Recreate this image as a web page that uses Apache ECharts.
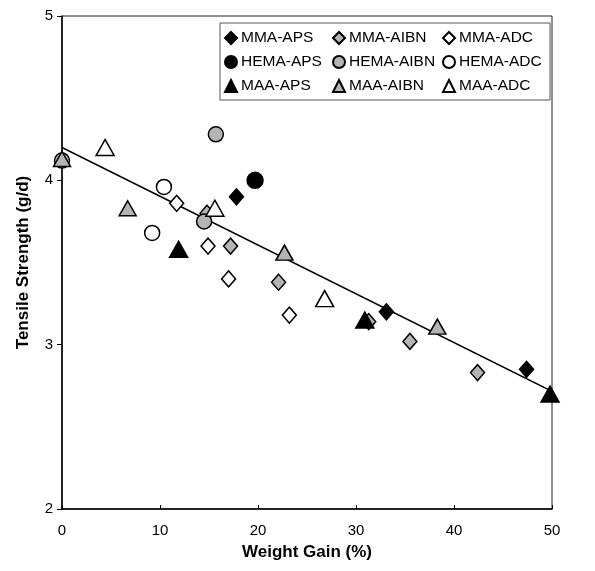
<!DOCTYPE html>
<html>
<head>
<meta charset="utf-8">
<script src="https://cdn.jsdelivr.net/npm/echarts@6/dist/echarts.min.js"></script>
<style>html,body{margin:0;padding:0;background:#fff;}#c{width:595px;height:571px;}</style>
</head>
<body>
<div id="c"></div>
<script>
var xTicks = [0, 10, 20, 30, 40, 50];
var yTicks = [2, 3, 4, 5];

var mmaAPS = [[17.8, 3.90], [33.1, 3.20], [47.4, 2.85]];
var mmaAIBN = [[14.8, 3.80], [17.2, 3.60], [22.1, 3.38], [31.3, 3.14], [35.5, 3.02], [42.4, 2.83]];
var mmaADC = [[11.7, 3.86], [14.9, 3.60], [17.0, 3.40], [23.2, 3.18]];
var hemaAPS = [[19.7, 4.00]];
var hemaAIBN = [[0, 4.12], [15.7, 4.28], [14.5, 3.75]];
var hemaADC = [[10.4, 3.96], [9.2, 3.68]];
var maaAPS = [[11.9, 3.58], [30.9, 3.15], [49.8, 2.70]];
var maaAIBN = [[0, 4.13], [6.7, 3.83], [22.7, 3.56], [38.3, 3.11]];
var maaADC = [[4.4, 4.20], [15.6, 3.83], [26.8, 3.28]];
var trendX = [0, 50.2];
var trendY = [4.20, 2.71];

var black = '#000', gray = '#b4b4b4', white = '#fff';
var FONT = 'Liberation Sans, Arial, sans-serif';
function sc(name, data, symbol, size, fill) {
  return {
    name: name, type: 'scatter', data: data, symbol: symbol, symbolSize: size,
    itemStyle: { color: fill, borderColor: '#000', borderWidth: 1.5, opacity: 1 },
    clip: false, z: 3
  };
}
var diamond = 'diamond', circle = 'circle', tri = 'triangle';
var series = [
  sc('MMA-APS', mmaAPS, diamond, [14, 16], black),
  sc('MMA-AIBN', mmaAIBN, diamond, [14, 16], gray),
  sc('MMA-ADC', mmaADC, diamond, [14, 16], white),
  sc('HEMA-APS', hemaAPS, circle, 16, black),
  sc('HEMA-AIBN', hemaAIBN, circle, 15, gray),
  sc('HEMA-ADC', hemaADC, circle, 15, white),
  sc('MAA-APS', maaAPS, tri, [18, 16], black),
  sc('MAA-AIBN', maaAIBN, tri, [17, 15], gray),
  sc('MAA-ADC', maaADC, tri, [18, 16], white),
  {
    type: 'line', data: trendX.map(function (x, i) { return [x, trendY[i]]; }),
    symbol: 'none', lineStyle: { color: '#000', width: 1.5 }, z: 2, silent: true, clip: false
  }
];

function legendCol(names, left) {
  return {
    orient: 'vertical', left: left, top: 30, itemGap: 8, itemWidth: 12, itemHeight: 12,
    data: names, textStyle: { fontFamily: FONT, fontSize: 15.5, color: '#000', padding: [0, 0, 0, -1] },
    padding: 0, selectedMode: false
  };
}

var chart = echarts.init(document.getElementById('c'), null, { renderer: 'canvas' });
chart.setOption({
  animation: false,
  backgroundColor: '#fff',
  grid: { left: 62, right: 43, top: 16, bottom: 62, show: true, borderColor: '#222', borderWidth: 1, backgroundColor: 'transparent' },
  xAxis: {
    type: 'value', min: xTicks[0], max: xTicks[xTicks.length - 1], interval: 10,
    name: 'Weight Gain (%)', nameLocation: 'middle', nameGap: 35,
    nameTextStyle: { fontFamily: FONT, fontSize: 17, fontWeight: 'bold', color: '#000' },
    axisLine: { lineStyle: { color: '#000', width: 1.5 } },
    axisTick: { show: true, length: 4, inside: true, lineStyle: { color: '#000' } },
    axisLabel: { fontFamily: FONT, fontSize: 15, color: '#000', margin: 14 },
    splitLine: { show: false }
  },
  yAxis: {
    type: 'value', min: yTicks[0], max: yTicks[yTicks.length - 1], interval: 1,
    name: 'Tensile Strength (g/d)', nameLocation: 'middle', nameGap: 30,
    nameTextStyle: { fontFamily: FONT, fontSize: 17, fontWeight: 'bold', color: '#000' },
    axisLine: { lineStyle: { color: '#000', width: 1.5 } },
    axisTick: { show: true, length: 5, lineStyle: { color: '#000' } },
    axisLabel: { fontFamily: FONT, fontSize: 15, color: '#000', margin: 9 },
    splitLine: { show: false }
  },
  legend: [
    legendCol(['MMA-APS', 'HEMA-APS', 'MAA-APS'], 224),
    legendCol(['MMA-AIBN', 'HEMA-AIBN', 'MAA-AIBN'], 332),
    legendCol(['MMA-ADC', 'HEMA-ADC', 'MAA-ADC'], 442)
  ],
  graphic: [{
    type: 'rect', shape: { x: 220, y: 23, width: 330, height: 77 },
    style: { fill: 'none', stroke: '#555', lineWidth: 1 }, z: 10
  }],
  series: series
});
</script>
</body>
</html>
